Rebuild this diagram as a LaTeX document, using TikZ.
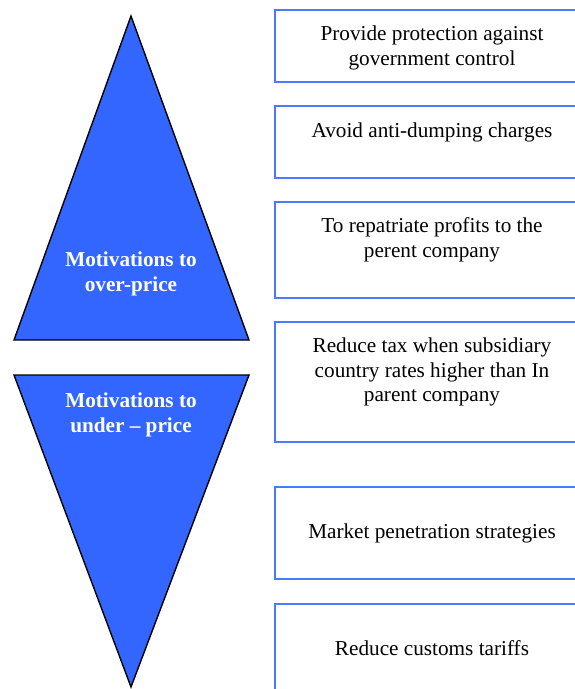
\documentclass[tikz,border=0pt]{standalone}
\usepackage{fontspec}
\setmainfont{Liberation Serif}
\definecolor{wedgeblue}{HTML}{3366FF}
\definecolor{framecolor}{HTML}{4A7AFF}
\begin{document}
\begin{tikzpicture}[x=1bp,y=-1bp,
  wedge/.style={fill=wedgeblue,draw=black,line width=1.4bp,line join=miter},
  itembox/.style={draw=framecolor,line width=1.8bp,fill=white},
  itemtext/.style={align=center,inner sep=0pt,font=\fontsize{21.3}{25}\selectfont},
  wedgetext/.style={align=center,inner sep=0pt,text=white,font=\fontsize{21.3}{25}\selectfont\bfseries}]
\useasboundingbox (0,0) rectangle (575,689);
\clip (0,0) rectangle (575,689);
\fill[white] (0,0) rectangle (575,689);

% two opposed wedges
\draw[wedge] (131,16) -- (249,340) -- (14,340) -- cycle;
\draw[wedge] (14,375) -- (249,375) -- (131,687) -- cycle;
\node[wedgetext] (over) at (131,274) {Motivations to\\over-price};
\node[wedgetext] (under) at (131,415) {Motivations to\\under -- price};

% list of motives, frames run off the right edge
\draw[itembox] (275,10) rectangle (590,82);
\draw[itembox] (275,106) rectangle (590,178);
\draw[itembox] (275,202) rectangle (590,298);
\draw[itembox] (275,322) rectangle (590,442);
\draw[itembox] (275,487) rectangle (590,579);
\draw[itembox] (275,604) rectangle (590,700);

\node[itemtext] (m1) at (432,47.5) {Provide protection against\\government control};
\node[itemtext] (m2) at (432,132) {Avoid anti-dumping charges};
\node[itemtext] (m3) at (432,239.5) {To repatriate profits to the\\perent company};
\node[itemtext] (m4) at (432,372) {Reduce tax when subsidiary\\country rates higher than In\\parent company};
\node[itemtext] (m5) at (432,533) {Market penetration strategies};
\node[itemtext] (m6) at (432,648) {Reduce customs tariffs};
\end{tikzpicture}
\end{document}
